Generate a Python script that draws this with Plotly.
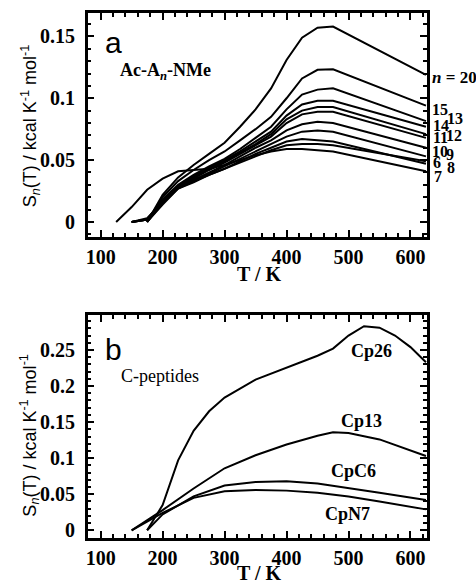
import plotly.graph_objects as go

W, H = 476, 585

# ---- Panel a data: Ac-An-NMe ----
T_a = [125, 150, 175, 200, 225, 250, 275, 300, 325, 350, 375, 400, 425, 450, 475, 625]
S_n20 = [None, None, 0, 0.022, 0.036, 0.046, 0.055, 0.064, 0.077, 0.091, 0.108, 0.131, 0.149, 0.157, 0.158, 0.119]
S_n15 = [None, None, 0, 0.020, 0.033, 0.042, 0.050, 0.057, 0.066, 0.075, 0.085, 0.100, 0.116, 0.123, 0.1235, 0.094]
S_n13 = [None, 0, 0.002, 0.018, 0.030, 0.038, 0.045, 0.051, 0.059, 0.068, 0.077, 0.091, 0.103, 0.107, 0.108, 0.0815]
S_n14 = [None, None, 0, 0.016, 0.029, 0.037, 0.044, 0.050, 0.057, 0.065, 0.073, 0.086, 0.095, 0.098, 0.098, 0.077]
S_n12 = [None, 0, 0.002, 0.017, 0.029, 0.036, 0.043, 0.049, 0.056, 0.063, 0.071, 0.083, 0.090, 0.093, 0.093, 0.071]
S_n11 = [None, None, 0, 0.015, 0.028, 0.035, 0.042, 0.048, 0.055, 0.062, 0.069, 0.080, 0.087, 0.089, 0.089, 0.068]
S_n10 = [None, 0, 0.002, 0.016, 0.028, 0.034, 0.040, 0.046, 0.053, 0.060, 0.066, 0.074, 0.079, 0.081, 0.080, 0.060]
S_n9 = [None, None, 0, 0.014, 0.027, 0.033, 0.039, 0.045, 0.051, 0.057, 0.063, 0.069, 0.073, 0.074, 0.073, 0.053]
S_n8 = [None, 0, 0.002, 0.015, 0.027, 0.032, 0.038, 0.043, 0.049, 0.055, 0.060, 0.065, 0.067, 0.066, 0.065, 0.047]
S_n7 = [0, 0.012, 0.026, 0.035, 0.041, 0.042, 0.043, 0.046, 0.050, 0.054, 0.057, 0.059, 0.059, 0.058, 0.057, 0.041]
S_n6 = [None, 0, 0.003, 0.016, 0.028, 0.033, 0.038, 0.043, 0.048, 0.053, 0.058, 0.062, 0.063, 0.063, 0.062, 0.049]
series_a = [S_n20, S_n15, S_n14, S_n13, S_n12, S_n11, S_n10, S_n9, S_n8, S_n7, S_n6]
names_a = ["20", "15", "14", "13", "12", "11", "10", "9", "8", "7", "6"]

# ---- Panel b data: C-peptides ----
T_cp26 = [175, 200, 225, 250, 275, 300, 350, 400, 450, 475, 500, 525, 550, 575, 600, 625]
S_cp26 = [0, 0.035, 0.097, 0.138, 0.165, 0.184, 0.209, 0.226, 0.242, 0.252, 0.270, 0.283, 0.281, 0.270, 0.254, 0.233]
T_cp13 = [150, 200, 250, 300, 350, 400, 450, 475, 500, 550, 625]
S_cp13 = [0, 0.028, 0.058, 0.086, 0.104, 0.119, 0.131, 0.136, 0.135, 0.126, 0.103]
T_cpc6 = [175, 200, 250, 300, 350, 400, 450, 500, 550, 625]
S_cpc6 = [0, 0.022, 0.047, 0.062, 0.067, 0.068, 0.065, 0.059, 0.052, 0.042]
T_cpn7 = [150, 200, 250, 300, 350, 400, 450, 500, 550, 625]
S_cpn7 = [0, 0.024, 0.045, 0.054, 0.056, 0.055, 0.052, 0.047, 0.040, 0.029]

fig = go.Figure()
line = dict(color="black", width=2)
for nm, s in zip(names_a, series_a):
    fig.add_trace(go.Scatter(x=T_a, y=s, mode="lines", line=line, name=nm,
                             xaxis="x", yaxis="y", showlegend=False))
for nm, t, s in [("Cp26", T_cp26, S_cp26), ("Cp13", T_cp13, S_cp13),
                 ("CpC6", T_cpc6, S_cpc6), ("CpN7", T_cpn7, S_cpn7)]:
    fig.add_trace(go.Scatter(x=t, y=s, mode="lines", line=line, name=nm,
                             xaxis="x2", yaxis="y2", showlegend=False))


def px(x):
    return x / W


def py(y):
    return 1 - y / H


serif = "Liberation Serif"
sans = "Liberation Sans"
tickfont = dict(family=serif, size=20, color="black", weight="bold")
common = dict(showline=True, linewidth=2.5, linecolor="black", mirror="allticks",
              ticks="inside", ticklen=7, tickwidth=2, tickcolor="black",
              showgrid=False, zeroline=False, tickfont=tickfont)
xcommon = dict(common, tickmode="linear", tick0=0, dtick=100, range=[79, 627],
               minor=dict(ticks="inside", ticklen=4, tickwidth=1.5, tickcolor="black",
                          dtick=20, tick0=0, showgrid=False))
ycommon = dict(common, tickmode="linear", tick0=0, dtick=0.05, ticklabelstandoff=6,
               minor=dict(ticks="inside", ticklen=4, tickwidth=1.5, tickcolor="black",
                          dtick=0.01, tick0=0, showgrid=False))

xdom = [px(86), px(427)]
fig.update_layout(
    width=W, height=H,
    margin=dict(l=0, r=0, t=0, b=0),
    paper_bgcolor="white", plot_bgcolor="white",
    xaxis=dict(xcommon, domain=xdom, anchor="y"),
    yaxis=dict(ycommon, domain=[py(238), py(13)], range=[-0.012, 0.169], anchor="x"),
    xaxis2=dict(xcommon, domain=xdom, anchor="y2"),
    yaxis2=dict(ycommon, domain=[py(541), py(317)], range=[-0.011, 0.298], anchor="x2"),
)

ann = []


def add(text, x, y, size, family=serif, xanchor="center", angle=0, weight="bold"):
    ann.append(dict(text=text, x=px(x), y=py(y), xref="paper", yref="paper",
                    showarrow=False, xanchor=xanchor, yanchor="middle",
                    textangle=angle,
                    font=dict(family=family, size=size, color="black", weight=weight)))


ytitle = "S<sub><i>n</i></sub>(T) / kcal K<sup>-1</sup> mol<sup>-1</sup>"
add(ytitle, 28, 127, 18, family=sans, angle=-90, weight="normal")
add(ytitle, 28, 438, 18, family=sans, angle=-90, weight="normal")
add("T / K", 259, 275, 20)
add("T / K", 259, 576, 20)
add("a", 112, 43, 30, family=sans, weight="normal")
add("b", 112, 351, 30, family=sans, weight="normal")
add("Ac-A<sub><i>n</i></sub>-NMe", 116, 72, 18, xanchor="left")
add("C-peptides", 117, 378, 18, xanchor="left", weight="normal")

# right-side labels, panel a
add("<i>n</i> = 20", 430, 78, 17, xanchor="left")
add("15", 430, 110, 16, xanchor="left")
add("13", 445, 119, 16, xanchor="left")
add("14", 431, 126, 16, xanchor="left")
add("12", 444, 136, 16, xanchor="left")
add("11", 431, 138, 16, xanchor="left")
add("10", 430, 152, 16, xanchor="left")
add("9", 444, 155, 16, xanchor="left")
add("6", 431, 163, 16, xanchor="left")
add("8", 445, 168, 16, xanchor="left")
add("7", 432, 177, 16, xanchor="left")

# panel b labels
add("Cp26", 348, 353, 18, xanchor="left")
add("Cp13", 338, 423, 18, xanchor="left")
add("CpC6", 328, 473, 18, xanchor="left")
add("CpN7", 322, 517, 18, xanchor="left")

fig.update_layout(annotations=ann)
fig.write_html("out.html", config={"displayModeBar": False},
               post_script="document.body.style.margin='0';document.body.style.overflow='hidden';")
